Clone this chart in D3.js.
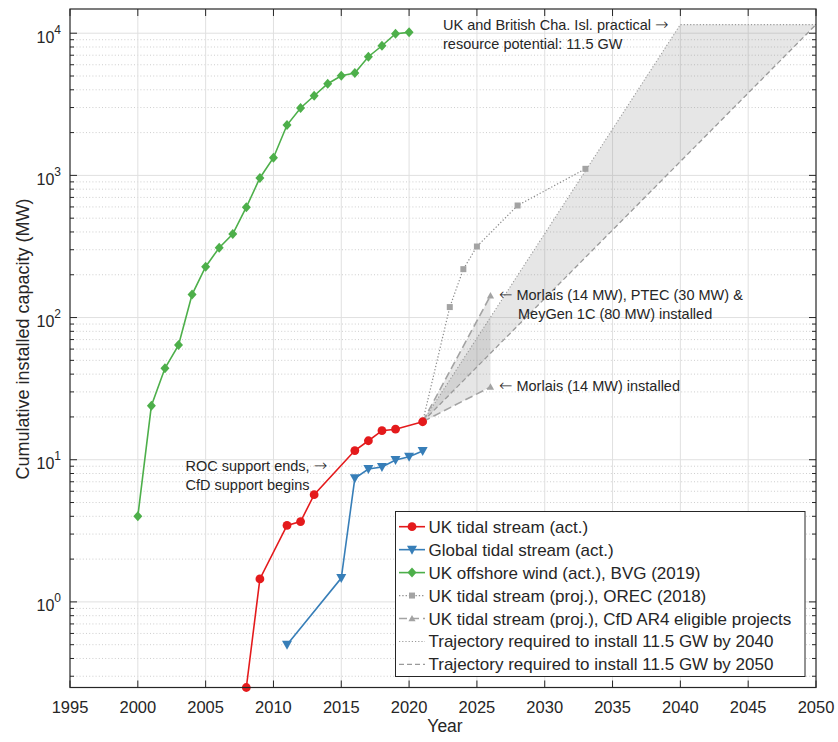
<!DOCTYPE html>
<html><head><meta charset="utf-8">
<script src="https://cdn.jsdelivr.net/npm/d3@7"></script>
<style>
body{margin:0;background:#fff}
text{font-family:"Liberation Sans",Arial,Helvetica,sans-serif;fill:#262626}
</style>
</head><body>
<svg id="chart" width="838" height="742"></svg>
<script>
// ---------------- data ----------------
const windYears  = [2000,2001,2002,2003,2004,2005,2006,2007,2008,2009,2010,2011,2012,2013,2014,2015,2016,2017,2018,2019,2020];
const windValues = [4,24,44,64,145,228,310,387,597,959,1331,2260,2977,3630,4410,5020,5245,6830,8160,9910,10140];

const ukYears  = [2008,2009,2011,2012,2013,2016,2017,2018,2019,2021];
const ukValues = [0.25,1.45,3.45,3.67,5.68,11.6,13.6,16.0,16.4,18.5];

const globalYears  = [2011,2015,2016,2017,2018,2019,2020,2021];
const globalValues = [0.5,1.47,7.4,8.6,8.9,9.95,10.5,11.5];

const orecYears  = [2021,2023,2024,2025,2028,2033];
const orecValues = [18.5,118.5,219,316,614,1112];

const cfdYears      = [2021,2026];
const cfdLowValues  = [18.5,32.5];
const cfdHighValues = [18.5,142.5];

const traj2040Years  = [2021,2040,2050];
const traj2040Values = [18.5,11500,11500];
const traj2050Years  = [2021,2050];
const traj2050Values = [18.5,11500];

const xTicks = [1995,2000,2005,2010,2015,2020,2025,2030,2035,2040,2045,2050];
const yDecadeExponents = [0,1,2,3,4];

const legendLabels = [
  "UK tidal stream (act.)",
  "Global tidal stream (act.)",
  "UK offshore wind (act.), BVG (2019)",
  "UK tidal stream (proj.), OREC (2018)",
  "UK tidal stream (proj.), CfD AR4 eligible projects",
  "Trajectory required to install 11.5 GW by 2040",
  "Trajectory required to install 11.5 GW by 2050"
];

// ---------------- setup ----------------
const svg = d3.select("#chart");
const L = 70, R = 816, T = 9, B = 687.5;
const x = d3.scaleLinear().domain([1995,2050]).range([L,R]);
const y = d3.scaleLog().domain([0.25,14800]).range([B,T]);
const zip = (xs, ys) => xs.map((v,i)=>[v, ys[i]]);
const line = d3.line().x(d=>x(d[0])).y(d=>y(d[1]));

const RED="#e41a1c", BLUE="#377eb8", GREEN="#4daf4a", GRAY="#a3a3a3", AX="#262626";

// minor values
const minorVals = [];
for (let e=-1; e<=4; e++) for (let k=2;k<=9;k++){ const v=k*Math.pow(10,e); if (v>=0.25 && v<=14800) minorVals.push(v); }
const majorVals = yDecadeExponents.map(e=>Math.pow(10,e));

// ---------------- grid ----------------
const g = svg.append("g");
g.selectAll(".mg").data(minorVals).enter().append("line")
  .attr("x1",L).attr("x2",R).attr("y1",d=>y(d)).attr("y2",d=>y(d))
  .attr("stroke","#c2c2c2").attr("stroke-width",0.8).attr("stroke-dasharray","1,2.2");
g.selectAll(".Mg").data(majorVals).enter().append("line")
  .attr("x1",L).attr("x2",R).attr("y1",d=>y(d)).attr("y2",d=>y(d))
  .attr("stroke","#e0e0e0").attr("stroke-width",1);
g.selectAll(".xg").data(xTicks.slice(1,-1)).enter().append("line")
  .attr("x1",d=>x(d)).attr("x2",d=>x(d)).attr("y1",T).attr("y2",B)
  .attr("stroke","#e0e0e0").attr("stroke-width",1);

// ---------------- fills ----------------
const trajPoly = zip(traj2040Years,traj2040Values).concat(zip(traj2050Years,traj2050Values).reverse());
svg.append("path").attr("d", line(trajPoly)+"Z").attr("fill","#808080").attr("fill-opacity",0.2);
const cfdPoly = zip(cfdYears,cfdHighValues).concat(zip(cfdYears,cfdLowValues).reverse());
svg.append("path").attr("d", line(cfdPoly)+"Z").attr("fill","#808080").attr("fill-opacity",0.2);

// ---------------- marker shapes ----------------
function marker(sel, type, color){
  if (type==="circle") return sel.append("circle").attr("r",4.4).attr("fill",color);
  let p;
  if (type==="tridown") p="M-5,-4L5,-4L0,5Z";
  else if (type==="triup") p="M-3.6,2.8L3.6,2.8L0,-3.6Z";
  else if (type==="diamond") p="M0,-5L4.5,0L0,5L-4.5,0Z";
  else if (type==="square") p="M-3,-3H3V3H-3Z";
  return sel.append("path").attr("d",p).attr("fill",color);
}
function drawSeries(data, color, width, dash, mtype, mcolor, skipFirstMarker){
  svg.append("path").attr("d",line(data)).attr("fill","none").attr("stroke",color)
    .attr("stroke-width",width).attr("stroke-dasharray",dash||null);
  if (mtype){
    const pts = skipFirstMarker ? data.slice(1) : data;
    pts.forEach(d=>{
      const m = svg.append("g").attr("transform",`translate(${x(d[0])},${y(d[1])})`);
      marker(m, mtype, mcolor||color);
    });
  }
}

// trajectories
drawSeries(zip(traj2040Years,traj2040Values), "#9a9a9a", 1.1, "1.2,2");
drawSeries(zip(traj2050Years,traj2050Values), "#9a9a9a", 1.3, "5,3");
// OREC
drawSeries(zip(orecYears,orecValues), "#8c8c8c", 1.2, "1.3,2", "square", GRAY, true);
// CfD
drawSeries(zip(cfdYears,cfdHighValues), GRAY, 1.6, "8,4", "triup", GRAY, true);
drawSeries(zip(cfdYears,cfdLowValues), GRAY, 1.6, "8,4", "triup", GRAY, true);
// actuals
drawSeries(zip(windYears,windValues), GREEN, 1.6, null, "diamond");
drawSeries(zip(globalYears,globalValues), BLUE, 1.6, null, "tridown");
drawSeries(zip(ukYears,ukValues), RED, 1.6, null, "circle");

// ---------------- annotations ----------------
const ann = [
  {p:[["UK and British Cha. Isl. practical ",0],["\u2192",1]], x:443, y:30},
  {p:[["resource potential: 11.5 GW",0]], x:443, y:49},
  {p:[["\u2190",1],[" Morlais (14 MW), PTEC (30 MW) &",0]], x:499, y:300},
  {p:[["MeyGen 1C (80 MW) installed",0]], x:518, y:319},
  {p:[["\u2190",1],[" Morlais (14 MW) installed",0]], x:499, y:390.5},
  {p:[["ROC support ends, ",0],["\u2192",1]], x:185.5, y:471},
  {p:[["CfD support begins",0]], x:185.5, y:490}
];
ann.forEach(a=>{
  const t = svg.append("text").attr("x",a.x).attr("y",a.y).attr("font-size",14.5);
  a.p.forEach(([s,isArrow])=>{
    const ts = t.append("tspan").text(s);
    if (isArrow) ts.attr("font-family","DejaVu Sans").attr("font-size",16).attr("font-weight",200);
  });
});

// ---------------- axes box & ticks ----------------
const ax = svg.append("g").attr("stroke",AX).attr("stroke-width",1).attr("fill","none");
xTicks.forEach(v=>{
  ax.append("line").attr("x1",x(v)).attr("x2",x(v)).attr("y1",B).attr("y2",B-7);
  ax.append("line").attr("x1",x(v)).attr("x2",x(v)).attr("y1",T).attr("y2",T+7);
});
majorVals.forEach(v=>{
  ax.append("line").attr("x1",L).attr("x2",L+7).attr("y1",y(v)).attr("y2",y(v));
  ax.append("line").attr("x1",R).attr("x2",R-7).attr("y1",y(v)).attr("y2",y(v));
});
minorVals.forEach(v=>{
  ax.append("line").attr("x1",L).attr("x2",L+4).attr("y1",y(v)).attr("y2",y(v));
  ax.append("line").attr("x1",R).attr("x2",R-4).attr("y1",y(v)).attr("y2",y(v));
});
ax.append("rect").attr("x",L).attr("y",T).attr("width",R-L).attr("height",B-T).attr("stroke-width",1.2);

// tick labels
svg.selectAll(".xt").data(xTicks).enter().append("text")
  .attr("x",d=>x(d)).attr("y",B+25).attr("text-anchor","middle").attr("font-size",16.5).text(d=>d);
yDecadeExponents.forEach(e=>{
  const t = svg.append("text").attr("x",61).attr("y",y(Math.pow(10,e))+9.5)
    .attr("text-anchor","end").attr("font-size",16);
  t.append("tspan").text("10");
  t.append("tspan").attr("dy",-9).attr("font-size",12).text(e);
});

// axis labels
svg.append("text").attr("x",445).attr("y",732).attr("text-anchor","middle").attr("font-size",17.5).text("Year");
svg.append("text").attr("transform","translate(28.5,339) rotate(-90)").attr("text-anchor","middle")
  .attr("font-size",18).text("Cumulative installed capacity (MW)");

// ---------------- legend ----------------
const lg = svg.append("g");
lg.append("rect").attr("x",395.5).attr("y",511.5).attr("width",409.5).attr("height",165)
  .attr("fill","#fff").attr("stroke",AX).attr("stroke-width",1);
const legStyles = [
  {c:RED, w:1.6, d:null, m:"circle", mc:RED},
  {c:BLUE, w:1.6, d:null, m:"tridown", mc:BLUE},
  {c:GREEN, w:1.6, d:null, m:"diamond", mc:GREEN},
  {c:"#8c8c8c", w:1.2, d:"1.3,2", m:"square", mc:GRAY},
  {c:GRAY, w:1.6, d:"8,4", m:"triup", mc:GRAY},
  {c:"#9a9a9a", w:1.1, d:"1.2,2", m:null},
  {c:"#9a9a9a", w:1.3, d:"5,3", m:null}
];
legendLabels.forEach((lab,i)=>{
  const cy = 526.7 + i*22.95;
  const s = legStyles[i];
  lg.append("line").attr("x1",399).attr("x2",425).attr("y1",cy).attr("y2",cy)
    .attr("stroke",s.c).attr("stroke-width",s.w).attr("stroke-dasharray",s.d);
  if (s.m){ const m = lg.append("g").attr("transform",`translate(412,${cy})`); marker(m, s.m, s.mc); }
  lg.append("text").attr("x",428.5).attr("y",cy+6).attr("font-size",17).text(lab);
});
</script>
</body></html>
